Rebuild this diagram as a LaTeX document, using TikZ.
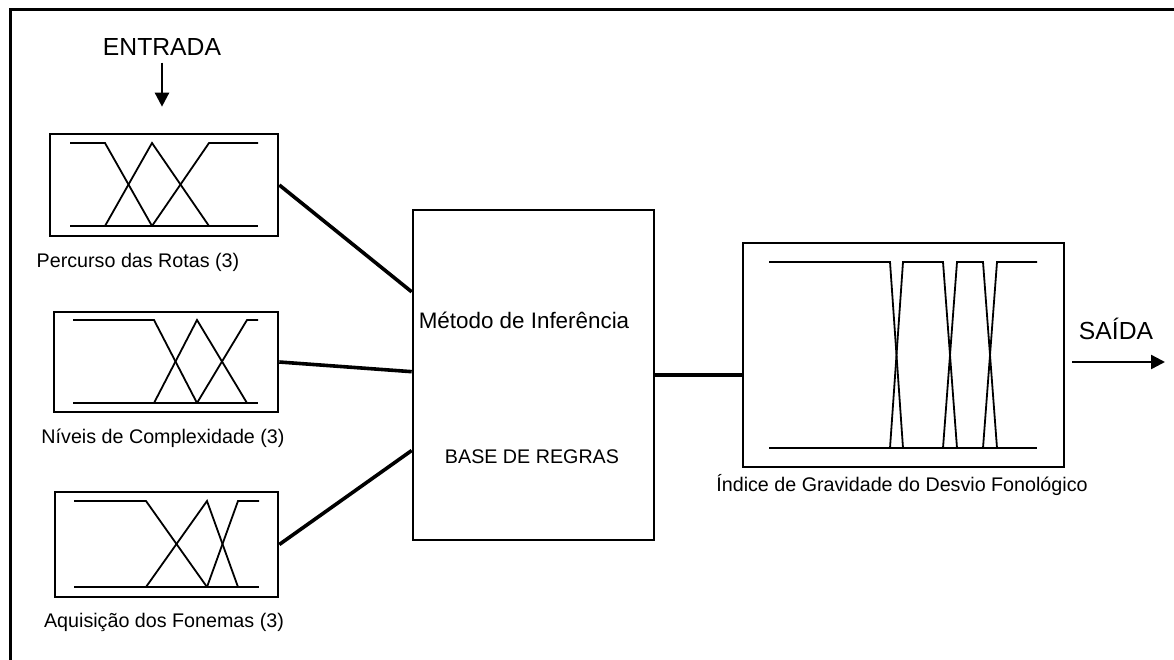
\documentclass[tikz,border=0pt]{standalone}
\usepackage{fontspec}
\setmainfont{Liberation Sans}
\usetikzlibrary{arrows.meta,positioning,calc}
\newcommand{\mfthree}[7]{ % left, a, b, c, right, top, bottom
 \draw[mf] (#1,#6) -- (#2,#6) -- (#3,#7);
 \draw[mf] (#2,#7) -- (#3,#6) -- (#4,#7);
 \draw[mf] (#3,#7) -- (#4,#6) -- (#5,#6);
 \draw[mf] (#1,#7) -- (#5,#7);
}
\tikzset{fbox/.style={draw, line width=2.6pt, inner sep=0pt},
            mf/.style={line width=1.8pt},
            conn/.style={line width=3.6pt},
            lbl/.style={font=\fontsize{19.7}{22}\selectfont, inner sep=0pt},
            big/.style={font=\fontsize{24.7}{28}\selectfont, inner sep=0pt},
            tip/.style={-{Triangle[length=14pt,width=14pt]}, line width=2.4pt}}

\begin{document}
\begin{tikzpicture}[x=1pt, y=-1pt]
\useasboundingbox (0,0) rectangle (1174,660);
\draw [line width=3pt] (10,690) |- (1200,10);

 % entradas
 \node[fbox, minimum width=228pt, minimum height=102pt] (in1) at (164,185) {};
 \node[fbox, minimum width=224pt, minimum height=100pt] (in2) at (166,362) {};
 \node[fbox, minimum width=223pt, minimum height=105pt] (in3) at (166.5,544.5) {};
 \mfthree{70}{105}{152}{209}{258}{143}{226}
 \mfthree{73}{154}{197}{247}{258}{320}{403}
 \mfthree{74}{146}{207}{238}{259}{501}{587}
 \node[lbl] (l1) at (138,262) {Percurso das Rotas (3)};
 \node[lbl] (l2) at (163,438) {Níveis de Complexidade (3)};
 \node[lbl] (l3) at (164,622) {Aquisição dos Fonemas (3)};

 \node[big] (ent) at (162,47) {ENTRADA};
 \draw [tip, shorten <=7pt, shorten >=26pt] (ent.south) -- (ent.south |- in1.north);

 % inferencia
 \node[fbox, minimum width=241pt, minimum height=330pt] (inf) at (533.5,375) {};
 \node[font=\fontsize{22.4}{25}\selectfont, inner sep=0pt] (met) at (524,320) {Método de Inferência};
 \node[lbl] (reg) at (532,457) {BASE DE REGRAS};

 \draw [conn] (in1.east) -- ($(inf.north west)!.25!(inf.south west)$);
 \draw [conn] (in2.east) -- ($(inf.north west)!.49!(inf.south west)$);
 \draw [conn] (in3.east) -- ($(inf.north west)!.727!(inf.south west)$);

 % saida
 \node[fbox, minimum width=321pt, minimum height=224pt] (out) at (903.5,355) {};
 \draw[mf] (769,262) -- (890,262) -- (903,448);
 \draw[mf] (890,448) -- (903,262) -- (943,262) -- (957,448);
 \draw[mf] (943,448) -- (957,262) -- (983,262) -- (997,448);
 \draw[mf] (983,448) -- (997,262) -- (1037,262);
 \draw[mf] (769,448) -- (1037,448);
 \node[lbl] (l4) at (902,485) {Índice de Gravidade do Desvio Fonológico};
 \draw [conn] (inf.east) -- (inf.east -| out.west);

 \node[big] (sai) at (1116,329) {SAÍDA};
 \coordinate (fim) at (1165,362);
 \draw [tip, shorten <=7pt] (out.east |- fim) -- (fim);
\end{tikzpicture}
\end{document}
